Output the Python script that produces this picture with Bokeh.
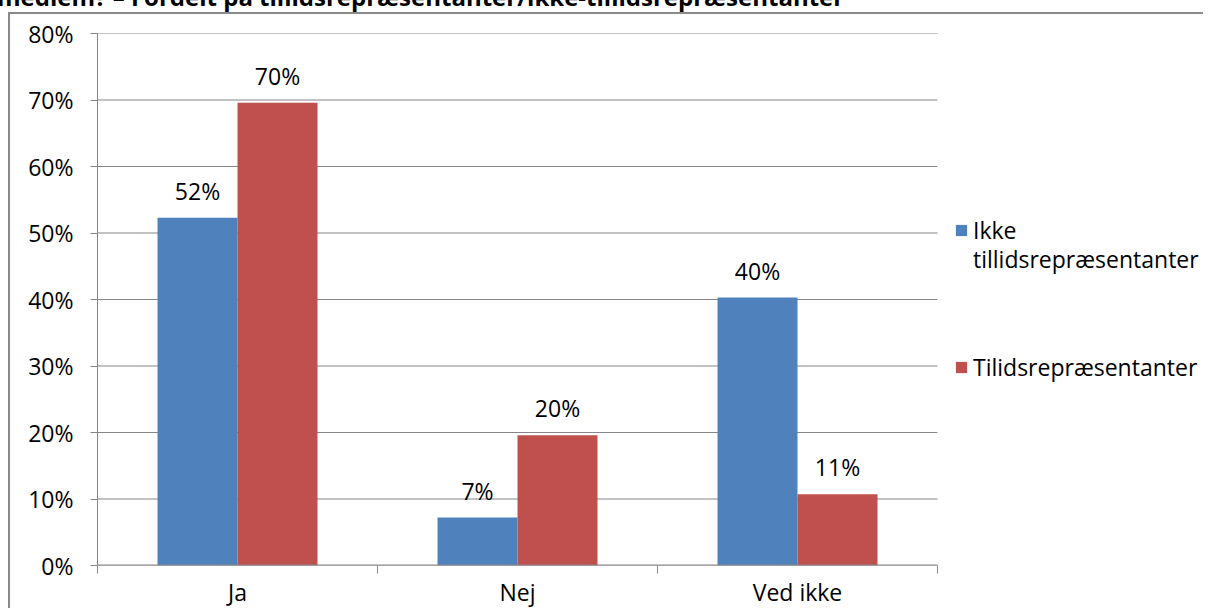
from bokeh.plotting import figure
from bokeh.models import (Range1d, FixedTicker, PrintfTickFormatter, ColumnDataSource,
                          Legend, LegendItem, Div)
from bokeh.layouts import column
from bokeh.embed import file_html
from bokeh.resources import INLINE
from bokeh.core.properties import value

# ---- data ----
title_text = "medlem? \u2013 Fordelt på tillidsrepræsentanter/ikke-tillidsrepræsentanter"
categories = ["Ja", "Nej", "Ved ikke"]
series_names = ["Ikke tillidsrepræsentanter", "Tilidsrepræsentanter"]
ikke_tillid = [52.3, 7.2, 40.3]
tillid = [69.6, 19.6, 10.7]
y_ticks = [0, 10, 20, 30, 40, 50, 60, 70, 80]

BLUE = "#4F81BD"
RED = "#C0504D"
GRAY = "#868686"
FONT = "Open Sans"
FS = "23px"

W, H = 1195, 596
LEFT, RIGHT = 87, 0
PLOT_PX = 840  # pixel width of the category area

n = len(categories)
centers = [i + 0.5 for i in range(n)]
bw = 0.2857
x_end = n * (W - LEFT - RIGHT) / PLOT_PX

p = figure(width=W, height=H, x_range=Range1d(0, x_end), y_range=Range1d(0, 80),
           output_backend="svg", toolbar_location=None,
           min_border_left=LEFT, min_border_right=RIGHT, min_border_top=19, min_border_bottom=36)
p.outline_line_color = None
p.background_fill_color = "white"
p.border_fill_color = "white"

# gridlines limited to the category area
p.segment(x0=[0] * len(y_ticks), x1=[n] * len(y_ticks), y0=y_ticks, y1=y_ticks,
          line_color=GRAY, line_width=1.2)

src_a = ColumnDataSource(dict(x=[c - bw / 2 for c in centers], top=ikke_tillid,
                              lab=[f"{round(v)}%" for v in ikke_tillid]))
src_b = ColumnDataSource(dict(x=[c + bw / 2 for c in centers], top=tillid,
                              lab=[f"{round(v)}%" for v in tillid]))

r_a = p.vbar(x="x", top="top", width=bw, source=src_a, fill_color=BLUE, line_color=None)
r_b = p.vbar(x="x", top="top", width=bw, source=src_b, fill_color=RED, line_color=None)
dummy = p.vbar(x=[], top=[], width=0.1, fill_alpha=0, line_alpha=0)

# x axis baseline
p.segment(x0=[0], x1=[n], y0=[0], y1=[0], line_color=GRAY, line_width=2)

for s in (src_a, src_b):
    p.text(x="x", y="top", text="lab", source=s, text_align="center",
           text_baseline="alphabetic", y_offset=-27, text_font=value(FONT),
           text_font_size=FS, text_color="black")

# x axis
p.xaxis.ticker = FixedTicker(ticks=centers, minor_ticks=list(range(n + 1)))
p.xaxis.major_label_overrides = {c: lab for c, lab in zip(centers, categories)}
p.xaxis.major_tick_out = 0
p.xaxis.major_tick_in = 0
p.xaxis.minor_tick_out = 8
p.xaxis.minor_tick_in = 0
p.xaxis.minor_tick_line_color = GRAY
p.xaxis.axis_line_color = None
p.xaxis.major_label_standoff = 2
p.xgrid.grid_line_color = None
p.ygrid.grid_line_color = None

# y axis
p.yaxis.ticker = FixedTicker(ticks=y_ticks, minor_ticks=[])
p.yaxis.formatter = PrintfTickFormatter(format="%d%%")
p.yaxis.major_tick_out = 7
p.yaxis.major_tick_in = 0
p.yaxis.major_tick_line_color = GRAY
p.yaxis.axis_line_color = GRAY
p.yaxis.major_label_standoff = 17

for ax in (p.xaxis[0], p.yaxis[0]):
    ax.major_label_text_font = FONT
    ax.major_label_text_font_size = FS
    ax.major_label_text_color = "black"

# legend (first series name broken over two lines)
first_lines = series_names[0].split(" ", 1)
legend_style = dict(margin=0, padding=0, spacing=0, label_height=26,
                    glyph_width=14, glyph_height=14,
                    label_standoff=5, border_line_color=None, background_fill_alpha=0,
                    label_text_font=FONT, label_text_font_size=FS, label_text_color="black")
legend_entries = [(first_lines[0], r_a, 319), (first_lines[1], dummy, 290),
                  (series_names[1], r_b, 182)]
for lab, rend, ypos in legend_entries:
    p.add_layout(Legend(items=[LegendItem(label=lab, renderers=[rend])],
                        location=(857, ypos), **legend_style))

p.styles = {"border-top": "2px solid #8a8a8a", "border-left": "2px solid #8a8a8a",
            "margin-left": "8px"}

div = Div(text=f'<span style="position:relative; left:-8px; top:-19px; white-space:nowrap; '
               f'font-family:\'Open Sans\'; font-weight:bold; font-size:24px; line-height:22px;">'
               f'{title_text}</span>',
          width=1197, height=2, styles={"overflow": "visible"})

layout = column(div, p)
open("out.html", "w").write(file_html(layout, INLINE))
